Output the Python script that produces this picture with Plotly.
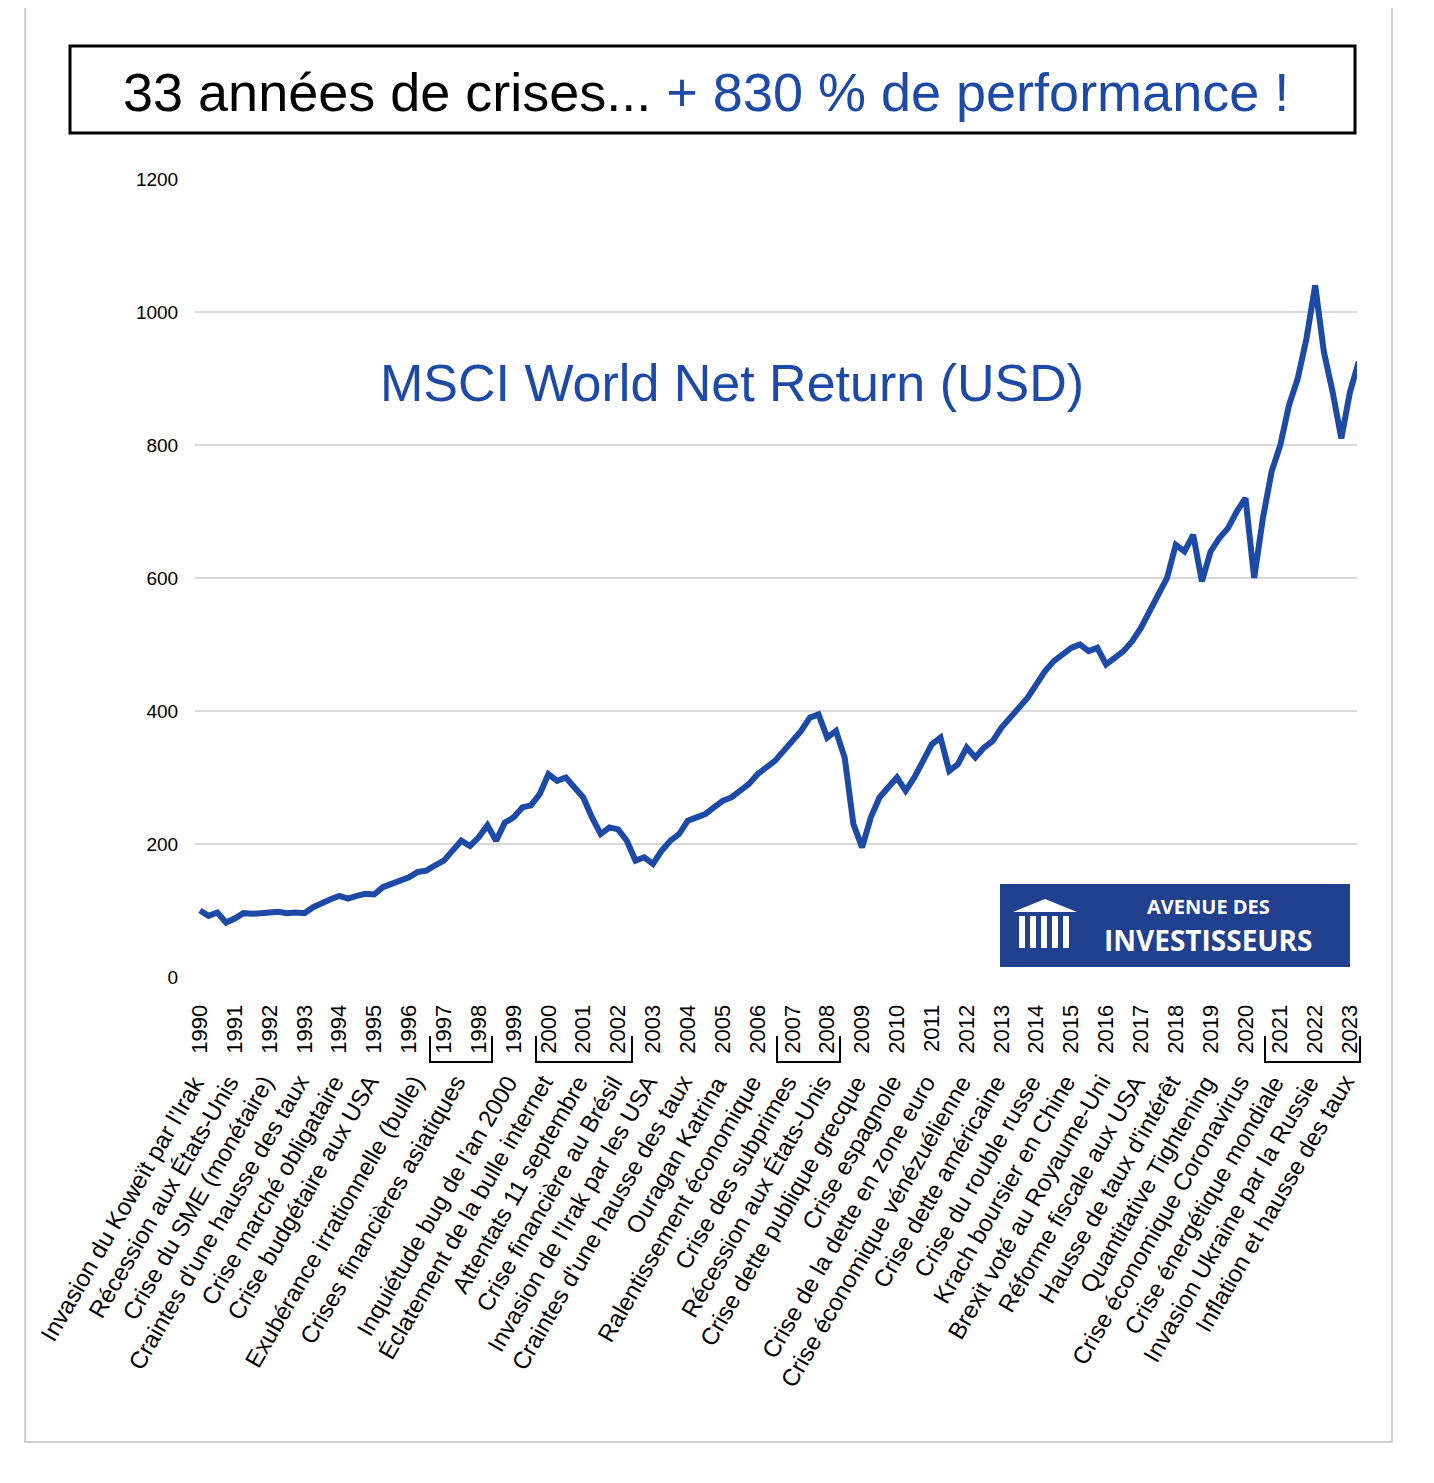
import plotly.graph_objects as go

# MSCI World Net Return (USD), quarterly readings, base 100 in 1990
years = list(range(1990, 2024))
values = [
    100, 92, 97, 82,
    88, 96, 95, 97,
    97, 98, 96, 97,
    96, 105, 112, 117,
    122, 118, 122, 125,
    124, 135, 140, 145,
    150, 158, 160, 168,
    175, 190, 205, 197,
    210, 228, 205, 232,
    240, 255, 258, 275,
    305, 295, 300, 285,
    270, 240, 215, 225,
    222, 205, 175, 180,
    170, 190, 205, 215,
    235, 240, 245, 255,
    265, 270, 280, 290,
    305, 315, 325, 340,
    355, 370, 390, 395,
    360, 370, 330, 230,
    195, 240, 270, 285,
    300, 280, 300, 325,
    350, 360, 310, 320,
    345, 330, 345, 355,
    375, 390, 405, 420,
    440, 460, 475, 485,
    495, 500, 490, 495,
    470, 480, 490, 505,
    525, 550, 575, 600,
    650, 640, 665, 595,
    640, 660, 675, 700,
    720, 600, 690, 760,
    800, 860, 900, 960,
    1040, 940, 880, 810,
    880, 920, 925,
]
dates = [1990 + i / 4 for i in range(len(values))]
dates[-1] = 2023.25

crises = [
    "Invasion du Koweït par l'Irak", "Récession aux États-Unis", "Crise du SME (monétaire)",
    "Craintes d'une hausse des taux", "Crise marché obligataire", "Crise budgétaire aux USA",
    "Exubérance irrationnelle (bulle)", "Crises financières asiatiques", "Inquiétude bug de l'an 2000",
    "Éclatement de la bulle internet", "Attentats 11 septembre", "Crise financière au Brésil",
    "Invasion de l'Irak par les USA", "Craintes d'une hausse des taux", "Ouragan Katrina",
    "Ralentissement économique", "Crise des subprimes", "Récession aux États-Unis",
    "Crise dette publique grecque", "Crise espagnole", "Crise de la dette en zone euro",
    "Crise économique vénézuélienne", "Crise dette américaine", "Crise du rouble russe",
    "Krach boursier en Chine", "Brexit voté au Royaume-Uni", "Réforme fiscale aux USA",
    "Hausse de taux d'intérêt", "Quantitative Tightening", "Crise économique Coronavirus",
    "Crise énergétique mondiale", "Invasion Ukraine par la Russie", "Inflation et hausse des taux",
]
crisis_x = [1990, 1991, 1992, 1993, 1994, 1995, 1996.3, 1997.5] + list(range(1999, 2024))

BLUE = "#1d4aa6"
OFF = 8  # page margin of the browser
L, R, T, B = 195 - OFF, 1357 - OFF, 179 - OFF, 977 - OFF


def px(x):
    return (x - OFF - L) / (R - L)


def py(y):
    return (B - (y - OFF)) / (B - T)


fig = go.Figure()
fig.add_trace(go.Scatter(x=dates, y=values, mode="lines",
                         line=dict(color=BLUE, width=6), hoverinfo="skip"))

shapes = [
    dict(type="rect", xref="paper", yref="paper", x0=px(25), x1=px(1392), y0=py(1442), y1=py(2),
         line=dict(color="#d0d0d0", width=2)),
    dict(type="rect", xref="paper", yref="paper", x0=px(70), x1=px(1355), y0=py(133), y1=py(46),
         line=dict(color="black", width=3), fillcolor="white"),
    dict(type="rect", xref="paper", yref="paper", x0=px(1000), x1=px(1350), y0=py(967), y1=py(884),
         line=dict(width=0), fillcolor="#21408e"),
    # little temple icon
    dict(type="path", xref="paper", yref="paper", line=dict(width=0), fillcolor="white",
         path=f"M {px(1013)},{py(912)} L {px(1045)},{py(899)} L {px(1077)},{py(912)} Z"),
]
for cx in [1022, 1033, 1044, 1055, 1066]:
    shapes.append(dict(type="rect", xref="paper", yref="paper", line=dict(width=0), fillcolor="white",
                       x0=px(cx - 3), x1=px(cx + 3), y0=py(948), y1=py(916)))
for a, b in [(430, 492), (536, 632), (777, 840), (1265, 1360)]:
    shapes.append(dict(type="path", xref="paper", yref="paper", line=dict(color="black", width=2),
                       path=f"M {px(a)},{py(1036)} L {px(a)},{py(1062)} L {px(b)},{py(1062)} L {px(b)},{py(1036)}"))

annotations = [
    dict(xref="paper", yref="paper", x=px(706), y=py(92), showarrow=False,
         xanchor="center", yanchor="middle",
         text="33 années de crises... <span style='color:#1d4aa6'>+ 830 % de performance !</span>",
         font=dict(size=54, color="black", family="Liberation Sans")),
    dict(xref="paper", yref="paper", x=px(732), y=py(383), showarrow=False,
         xanchor="center", yanchor="middle",
         text="MSCI World Net Return (USD)", font=dict(size=52, color=BLUE, family="Liberation Sans")),
    dict(xref="paper", yref="paper", x=px(1208), y=py(906), showarrow=False,
         xanchor="center", yanchor="middle",
         text="<b>AVENUE DES</b>", font=dict(size=20, color="white", family="Open Sans")),
    dict(xref="paper", yref="paper", x=px(1208), y=py(940), showarrow=False,
         xanchor="center", yanchor="middle",
         text="<b>INVESTISSEURS</b>", font=dict(size=28, color="white", family="Open Sans")),
]
for name, x in zip(crises, crisis_x):
    annotations.append(dict(x=x, xref="x", y=py(1068), yref="paper", text=name, textangle=-60,
                            showarrow=False, xanchor="right", yanchor="top", xshift=12,
                            font=dict(size=24, color="black", family="Liberation Sans")))

fig.update_layout(
    width=1434, height=1483, paper_bgcolor="white", plot_bgcolor="white",
    margin=dict(l=L, r=1434 - R, t=T, b=1483 - B),
    showlegend=False, shapes=shapes, annotations=annotations,
    font=dict(family="Liberation Sans", color="black"),
    xaxis=dict(range=[1989.86, 2023.2], tickvals=years, ticktext=[str(y) for y in years],
               tickangle=-90, tickfont=dict(size=22), showgrid=False, zeroline=False,
               ticks="outside", ticklen=18, tickcolor="white"),
    yaxis=dict(range=[0, 1200], dtick=200, gridcolor="#d9d9d9", gridwidth=2, zeroline=False,
               tickfont=dict(size=19), ticks="outside", ticklen=12, tickcolor="white"),
)

fig.write_html("out.html")
